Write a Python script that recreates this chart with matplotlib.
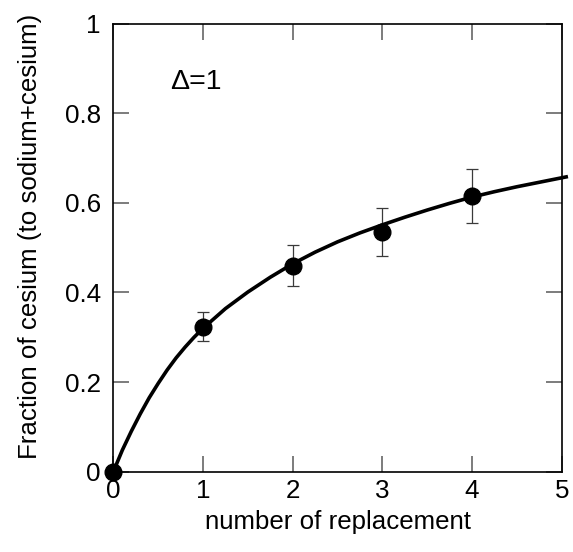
import numpy as np
import matplotlib
matplotlib.use("Agg")
import matplotlib.pyplot as plt

plt.rcParams['font.family'] = ['Liberation Sans', 'DejaVu Sans']

# measured points
n_repl = [0, 1, 2, 3, 4]
frac_cs = [0.0, 0.324, 0.460, 0.536, 0.615]
err_low = [0.0, 0.032, 0.046, 0.055, 0.061]
err_high = [0.0, 0.032, 0.045, 0.053, 0.061]

# fitted curve
curve_x = [0, 0.1, 0.2, 0.3, 0.4, 0.5, 0.6, 0.7, 0.8, 0.9, 1.0,
           1.25, 1.5, 1.75, 2.0, 2.25, 2.5, 2.75, 3.0, 3.25, 3.5,
           3.75, 4.0, 4.25, 4.5, 4.75, 5.0, 5.05]
curve_y = [0, 0.048, 0.090, 0.129, 0.165, 0.197, 0.227, 0.254, 0.278, 0.300, 0.320,
           0.364, 0.401, 0.434, 0.464, 0.490, 0.513, 0.533, 0.551, 0.568, 0.584,
           0.599, 0.613, 0.625, 0.636, 0.646, 0.656, 0.658]

x_ticks = [0, 1, 2, 3, 4, 5]
y_ticks = [0, 0.2, 0.4, 0.6, 0.8, 1]
y_ticklabels = ['0', '0.2', '0.4', '0.6', '0.8', '1']

fig = plt.figure(figsize=(5.73, 5.52), dpi=100)
ax = fig.add_axes([0.1978, 0.1455, 0.7825, 0.8116])

ax.plot(curve_x, curve_y, color='black', lw=2.6, zorder=3, clip_on=False)
ax.errorbar(n_repl[1:], frac_cs[1:], yerr=[err_low[1:], err_high[1:]], fmt='none',
            ecolor='#3a3a3a', elinewidth=0.9, capsize=4, capthick=0.9, zorder=2)
ax.plot(n_repl, frac_cs, 'o', color='black', ms=12, zorder=4, clip_on=False)

ax.set_xlim(0, 5)
ax.set_ylim(0, 1)
ax.set_xticks(x_ticks)
ax.set_yticks(y_ticks)
ax.set_yticklabels(y_ticklabels)
ax.tick_params(direction='in', length=11.5, width=1.2, color='#666666',
               top=True, right=True, labelsize=18.7)
ax.tick_params(axis='x', pad=5.5)
ax.tick_params(axis='y', pad=9)
for s in ax.spines.values():
    s.set_linewidth(1.2)
    s.set_color('black')

ax.set_xlabel('number of replacement', fontsize=18.6)
ax.set_ylabel('Fraction of cesium (to sodium+cesium)', fontsize=18.6)
ax.xaxis.set_label_coords(0.5, -0.085)
ax.yaxis.set_label_coords(-0.16, 0.526)

ax.text(0.636, 0.855, '\u0394=1', fontsize=20.5, ha='left', va='baseline')

fig.savefig('out.png', dpi=100)
